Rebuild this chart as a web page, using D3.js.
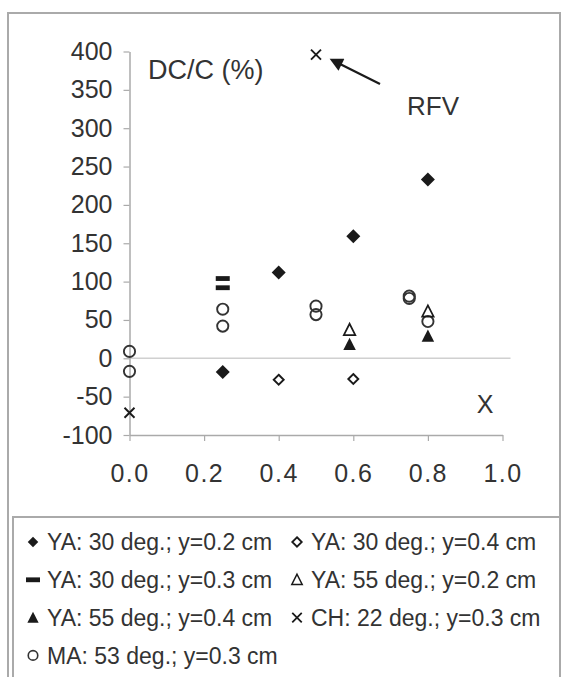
<!DOCTYPE html>
<html>
<head>
<meta charset="utf-8">
<script src="https://d3js.org/d3.v7.min.js"></script>
<style>
  body { margin: 0; background: #fff; }
  text { font-family: "Liberation Sans", Arial, sans-serif; fill: #333; }
</style>
</head>
<body>
<script>
// ---- data ----
var xTicks = [0, 0.2, 0.4, 0.6, 0.8, 1.0];
var yTicks = [-100, -50, 0, 50, 100, 150, 200, 250, 300, 350, 400];

var ya30_02 = [[0.25, -18], [0.4, 112], [0.6, 159], [0.8, 233]];
var ya30_04 = [[0.4, -28], [0.6, -27]];
var ya30_03 = [[0.25, 104], [0.25, 92]];
var ya55_02 = [[0.59, 37], [0.8, 61]];
var ya55_04 = [[0.59, 18], [0.8, 29]];
var ch22_03 = [[0, -71], [0.5, 396]];
var ma53_03 = [[0, 9], [0, -17], [0.25, 64], [0.25, 42], [0.5, 68], [0.5, 57], [0.75, 81], [0.75, 78], [0.8, 48]];

var legendLabels = [
  "YA: 30 deg.; y=0.2 cm", "YA: 30 deg.; y=0.4 cm",
  "YA: 30 deg.; y=0.3 cm", "YA: 55 deg.; y=0.2 cm",
  "YA: 55 deg.; y=0.4 cm", "CH: 22 deg.; y=0.3 cm",
  "MA: 53 deg.; y=0.3 cm"
];

var width = 563, height = 677;
var ink = "#1a1a1a";

var svg = d3.select("body").append("svg")
    .attr("width", width)
    .attr("height", height);

// frames
svg.append("rect")
    .attr("x", 8).attr("y", 13).attr("width", 552).attr("height", 680)
    .attr("fill", "none").attr("stroke", "#aaa").attr("stroke-width", 2);
svg.append("rect")
    .attr("x", 13).attr("y", 517).attr("width", 547).attr("height", 180)
    .attr("fill", "none").attr("stroke", "#aaa").attr("stroke-width", 2);

var x = d3.scaleLinear().domain([0, 1]).range([129.5, 502.5]);
var y = d3.scaleLinear().domain([-100, 400]).range([435, 51.5]);

// zero line
svg.append("line")
    .attr("x1", x(0)).attr("x2", x(1) + 8)
    .attr("y1", y(0)).attr("y2", y(0))
    .attr("stroke", "#d0d0d0").attr("stroke-width", 1.5);

var yAxis = svg.append("g")
    .attr("transform", "translate(" + x(0) + ",0)")
    .call(d3.axisLeft(y).tickValues(yTicks).tickSize(6).tickSizeOuter(0)
        .tickPadding(11).tickFormat(function(d){ return String(d); }));

var xAxis = svg.append("g")
    .attr("transform", "translate(0," + y(-100) + ")")
    .call(d3.axisBottom(x).tickValues(xTicks).tickSize(6).tickSizeOuter(0)
        .tickPadding(23).tickFormat(d3.format(".1f")));

svg.selectAll(".domain").attr("stroke", "#aaa").attr("stroke-width", 1.5);
svg.selectAll(".tick line").attr("stroke", "#aaa").attr("stroke-width", 1.2);
svg.selectAll(".tick text")
    .attr("font-size", 25)
    .attr("font-family", "Liberation Sans, Arial, sans-serif")
    .attr("fill", "#333");
xAxis.selectAll(".tick text").attr("letter-spacing", 1.5);

// titles / annotations
svg.append("text").attr("x", 148).attr("y", 79)
    .attr("font-size", 27).text("DC/C (%)");
svg.append("text").attr("x", 407).attr("y", 115)
    .attr("font-size", 26).text("RFV");
svg.append("text").attr("x", x(0.953)).attr("y", 413)
    .attr("text-anchor", "middle").attr("font-size", 25).text("X");

// arrow to RFV point
svg.append("defs").append("marker")
    .attr("id", "head").attr("viewBox", "0 0 10 10")
    .attr("refX", 8).attr("refY", 5)
    .attr("markerWidth", 7).attr("markerHeight", 6)
    .attr("orient", "auto")
  .append("path").attr("d", "M0,0L10,5L0,10Z").attr("fill", ink);
svg.append("line")
    .attr("x1", 380).attr("y1", 84).attr("x2", 332).attr("y2", 60)
    .attr("stroke", ink).attr("stroke-width", 2.2)
    .attr("marker-end", "url(#head)");

// marker shapes
function diamond(r) { return "M0," + (-r) + "L" + r + ",0L0," + r + "L" + (-r) + ",0Z"; }
function triangle(s) { var h = s * 0.9; return "M0," + (-h / 2 - 1) + "L" + (s / 2) + "," + (h / 2) + "L" + (-s / 2) + "," + (h / 2) + "Z"; }
function cross(r) { return "M" + (-r) + "," + (-r) + "L" + r + "," + r + "M" + r + "," + (-r) + "L" + (-r) + "," + r; }

var shapes = {
  filledDiamond: function(g){ g.append("path").attr("d", diamond(7)).attr("fill", ink); },
  openDiamond: function(g){ g.append("path").attr("d", diamond(5)).attr("fill", "#fff").attr("stroke", ink).attr("stroke-width", 1.9); },
  dash: function(g){ g.append("rect").attr("x", -7).attr("y", -2.4).attr("width", 14).attr("height", 4.8).attr("fill", ink); },
  openTriangle: function(g){ g.append("path").attr("d", triangle(11.5)).attr("fill", "none").attr("stroke", ink).attr("stroke-width", 1.7); },
  filledTriangle: function(g){ g.append("path").attr("d", triangle(12.5)).attr("fill", ink); },
  cross: function(g){ g.append("path").attr("d", cross(5)).attr("fill", "none").attr("stroke", ink).attr("stroke-width", 1.9); },
  circle: function(g){ g.append("circle").attr("r", 5.6).attr("fill", "none").attr("stroke", "#333").attr("stroke-width", 1.9); }
};

var series = [
  { data: ma53_03, shape: "circle" },
  { data: ya30_02, shape: "filledDiamond" },
  { data: ya30_04, shape: "openDiamond" },
  { data: ya30_03, shape: "dash" },
  { data: ya55_04, shape: "filledTriangle" },
  { data: ya55_02, shape: "openTriangle" },
  { data: ch22_03, shape: "cross" }
];

series.forEach(function(s){
  svg.append("g").selectAll("g")
    .data(s.data)
    .enter()
    .append("g")
    .attr("transform", function(d){ return "translate(" + x(d[0]) + "," + y(d[1]) + ")"; })
    .each(function(){ shapes[s.shape](d3.select(this)); });
});

// legend
var legendShapes = ["filledDiamond", "openDiamond", "dash", "openTriangle", "filledTriangle", "cross", "circle"];
var legendSize = { filledDiamond: 0.75, openDiamond: 0.95, dash: 1, openTriangle: 0.9, filledTriangle: 0.9, cross: 0.95, circle: 0.85 };
var legend = svg.append("g").selectAll("g")
    .data(legendLabels)
    .enter()
    .append("g")
    .attr("transform", function(d, i){
      return "translate(" + (i % 2 === 0 ? 33 : 297) + "," + (542 + Math.floor(i / 2) * 37.8) + ")";
    });
legend.append("g")
    .attr("transform", function(d, i){ return "scale(" + legendSize[legendShapes[i]] + ")"; })
    .each(function(d, i){ shapes[legendShapes[i]](d3.select(this)); });
legend.append("text")
    .attr("x", 14).attr("dy", "0.36em")
    .attr("font-size", 23)
    .text(function(d){ return d; });
</script>
</body>
</html>
